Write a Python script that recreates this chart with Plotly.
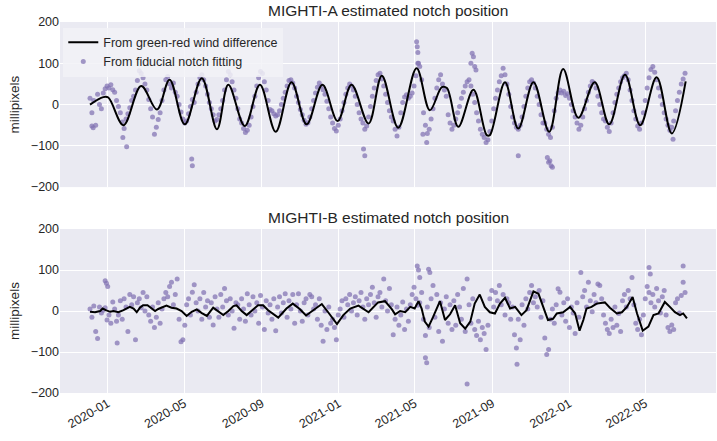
import pandas as pd
import plotly.graph_objects as go
from plotly.subplots import make_subplots

# ---------------- data (days counted from 2019-12-04) ----------------
START = "2019-12-04"
DOT_STEP_DAYS = 3

# MIGHTI-A : green-red wind difference estimate (extrema, smooth curve)
A_line_days = [0, 21, 29, 53, 81, 106, 126, 150, 177, 201, 219, 245, 269, 294, 319, 343,
               368, 392, 414, 441, 462, 488, 517, 538, 557, 565, 583, 607, 628, 633,
               657, 678, 702, 727, 749, 773, 799, 822, 847, 871, 897, 921, 943]
A_line_vals = [0, 18, 17, -50, 45, -12, 60, -48, 64, -60, 48, -52, 48, -66, 54, -48,
               48, -40, 48, -46, 70, -56, 88, -14, 42, 40, -54, 36, -74, -74,
               54, -58, 54, -66, 86, -32, 54, -48, 72, -50, 66, -70, 56]

# MIGHTI-A : fiducial notch fitting (one value every 3 days)
A_dots = [
    15, -20, 10, -50, 25, 0, -10, 28, 38, 45, 40, 48, 36, 30, 10, -5,
    -20, -42, -58, -35, -22, -8, 10, 20, 35, 58, 82, 75, 65, 50, 35, 12,
    -10, -30, -72, -55, -36, -20, 10, 35, 60, 68, 50, 40, 52, 30, 20, 0,
    -18, -35, -45, -40, -22, -5, 12, 5, 30, 50, 65, 72, 60, 45, 25, 5,
    -10, -25, -40, -36, -25, -10, 10, 35, 60, 80, 72, 55, 35, 15, -10, -35,
    -45, -58, -68, -62, -50, -30, -5, 20, 45, 65, 80, 75, 55, 35, 10, -12,
    -15, -22, -28, -25, -15, 0, 15, 30, 45, 58, 60, 52, 40, 20, 5, -12,
    -25, -38, -48, -44, -30, -10, 10, 28, 42, 52, 45, 36, 25, 8, -10, -30,
    -45, -58, -64, -50, -35, -15, 5, 25, 40, 50, 45, 35, 20, 0, -20, -35,
    -45, -60, -52, -30, -5, 20, 40, 58, 72, 76, 62, 45, 25, 5, -15, -30,
    -40, -60, -76, -55, -20, 5, 18, 24, 15, 20, 28, 45, 70, 100, 92, 60,
    -20, -50, -70, -60, -35, -10, 15, 40, 60, 72, 50, 35, 20, -25, -45, -60,
    -50, -35, -20, -5, 15, 30, 45, 55, 60, 45, 25, 5, -20, -40, -60, -72,
    -80, -92, -85, -65, -40, -10, 15, 35, 55, 70, 88, 72, 50, 25, -5, -30,
    -45, -55, -60, -50, -30, -5, 20, 40, 55, 60, 52, 40, 20, 0, -25, -45,
    -45, -60, -72, -80, -55, -15, 15, 28, 35, 28, 32, 22, 26, 15, 0, -15,
    -30, -45, -60, -50, -30, -10, 10, 30, 45, 56, 52, 40, 20, 0, -20, -35,
    -40, -55, -65, -45, -20, 5, 25, 40, 55, 65, 70, 76, 60, 35, 10, -15,
    -35, -52, -60, -45, -20, 10, 40, 65, 85, 92, 78, 60, 40, 20, 0, -20,
    -35, -50, -62, -55, -40, -15, 10, 30, 50, 62, 76,
]
A_out_days = [3, 5, 52, 58, 161, 162, 433, 435, 517, 518, 519, 520, 527, 533,
              603, 605, 607, 609, 611, 678, 724, 726, 728, 730, 732, 923]
A_out_vals = [-52, -56, -80, -102, -132, -148, -108, -124, 152, 140, 126, 100, -72, -92,
              100, 124, 116, 92, 84, -124, -128, -140, -136, -148, -152, -84]

# MIGHTI-B : green-red wind difference estimate
B_line_days = [0, 8, 16, 20, 25, 32, 37, 45, 53, 58, 63, 69, 74, 79, 84, 91, 96, 103, 108,
               116, 121, 129, 137, 145, 153, 161, 169, 177, 185, 195, 203, 211, 219, 227,
               232, 240, 248, 256, 266, 274, 282, 298, 311, 321, 332, 342, 352, 367, 377,
               391, 401, 412, 425, 441, 456, 467, 478, 483, 491, 499, 507, 514, 520, 525,
               530, 536, 543, 554, 562, 570, 578, 586, 594, 602, 609, 617, 625, 633, 641,
               649, 657, 665, 673, 683, 691, 702, 710, 718, 725, 733, 739, 749, 760, 768,
               775, 781, 786, 794, 802, 815, 823, 834, 842, 850, 859, 866, 875, 884, 892,
               900, 910, 918, 926, 934, 939, 945]
B_line_vals = [-2, -3, 0, 6, 2, -2, 0, -3, 2, 6, 10, 6, -3, 8, 14, 14, 8, 0, 5,
               10, 13, 8, 6, 0, -12, -2, 4, -5, -12, 8, -2, -10, 0, 12,
               14, 0, -10, 0, 14, 14, 2, -16, 6, 18, 5, -11, 0, 17, -3,
               -32, -10, 6, 13, -3, 21, 24, 4, -8, 0, -3, 10, 6, 24, 6,
               -26, -38, -15, 24, -22, -8, 14, -30, -43, -26, 18, 40, 10, -3, -6,
               18, 32, 6, 10, -10, 2, 48, 42, 6, -22, -19, -6, -3, 10, -6,
               -48, -22, 6, 10, 18, 21, 8, -6, -3, 10, 34, -6, -48, -38, -10,
               -6, 22, 10, -3, -10, -6, -18]

# MIGHTI-B : fiducial notch fitting (one value every 3 days)
B_dots = [
    5, -15, 12, -50, -67, 10, -5, 2, 8, -22, -10, -30, 22, 5, -25, -10,
    25, -20, 30, 10, -50, 40, 15, 35, -70, 20, 30, 8, 45, 0, 35, -10,
    -25, 10, -40, -15, 20, -30, 5, 30, 45, 35, 60, 70, 15, 40, 78, -20,
    -75, -70, -35, 15, 30, -10, 46, 64, 20, 0, 30, -20, 45, 10, 25, -15,
    20, -34, 35, 5, -15, 40, 10, 55, 25, -10, 30, 0, -42, 20, 15, -20,
    30, 5, -25, 42, 15, -10, 35, 0, 20, -30, 38, 10, -45, 25, -5, 15,
    -20, 30, -48, 10, 35, -5, 20, 42, -15, 25, 5, 40, -30, 15, 42, 0,
    -25, 20, 30, -10, 40, 35, 5, 15, -20, 30, -35, -74, 0, -45, 10, -30,
    -20, -40, -70, -10, 5, 25, -15, 30, 15, 40, 0, 20, 35, -10, 25, 45,
    10, -20, 30, 15, 40, 58, 20, -15, 35, 45, 10, 78, 25, 0, 55, 15,
    -58, -20, 10, -35, -10, 22, -45, 5, -25, 15, 40, 58, 30, 14, 20, 45,
    -20, -60, 10, -40, 30, 62, -15, 40, -50, 20, -74, 5, 35, -30, 15, -45,
    25, -35, 40, 10, -20, 55, -50, 78, 15, -30, 30, -45, -60, -25, -70, -40,
    -55, -94, -35, 30, 50, 10, 45, 25, 62, 15, 40, -10, 30, 20, -20, 10,
    -58, -90, -20, -70, 15, -35, 30, 5, 45, 62, 20, 35, 10, 50, -15, 25,
    -66, -106, -94, -20, 5, -30, 15, 54, 46, -10, 20, -25, 30, -40, 10, -5,
    -55, 20, -15, 94, 35, 50, 10, 70, 25, -2, 40, 20, 66, 62, 30, -10,
    -30, -45, -55, -20, -40, 10, -35, -6, -50, 25, 40, 10, 50, 30, 82, 15,
    -30, -45, -20, -58, -10, 30, 60, 45, 20, 40, 10, 55, 25, -5, 35, 50,
    -10, -40, -50, -34, -45, 20, 30, -5, 38, 70, 45,
]
B_out_days = [24, 26, 28, 43, 518, 520, 522, 531, 533, 536, 538, 597, 676, 885, 887, 939]
B_out_vals = [74, 68, 60, -78, 110, 100, 82, -114, -126, 102, 94, -178, -130, 106, 90, 110]

TITLES = ["MIGHTI-A estimated notch position", "MIGHTI-B estimated notch position"]
TICK_DATES = ["2020-01-01", "2020-05-01", "2020-09-01", "2021-01-01",
              "2021-05-01", "2021-09-01", "2022-01-01", "2022-05-01"]
TICK_TEXT = ["2020-01", "2020-05", "2020-09", "2021-01",
             "2021-05", "2021-09", "2022-01", "2022-05"]
Y_TICKS = [-200, -100, 0, 100, 200]

# ---------------- helpers ----------------
base = pd.Timestamp(START)


def to_dates(days):
    return [base + pd.Timedelta(days=int(d)) for d in days]


def grid_dates(n):
    return [base + pd.Timedelta(days=DOT_STEP_DAYS * k) for k in range(n)]


LINE_COLOR = "black"
DOT_COLOR = "rgba(129,114,178,0.72)"
BG = "#EAEAF2"
TXT = "#262626"
FONT = "Liberation Sans"

fig = make_subplots(rows=2, cols=1)

# top panel (dots first so the line is drawn above them)
fig.add_trace(go.Scatter(x=grid_dates(len(A_dots)) + to_dates(A_out_days),
                         y=A_dots + A_out_vals, mode="markers",
                         marker=dict(color=DOT_COLOR, size=5, line=dict(width=0)),
                         name="From fiducial notch fitting", legendrank=2), row=1, col=1)
fig.add_trace(go.Scatter(x=to_dates(A_line_days), y=A_line_vals, mode="lines",
                         line=dict(color=LINE_COLOR, width=2, shape="spline", smoothing=1.0),
                         name="From green-red wind difference", legendrank=1), row=1, col=1)

# bottom panel
fig.add_trace(go.Scatter(x=grid_dates(len(B_dots)) + to_dates(B_out_days),
                         y=B_dots + B_out_vals, mode="markers",
                         marker=dict(color=DOT_COLOR, size=5, line=dict(width=0)),
                         showlegend=False), row=2, col=1)
fig.add_trace(go.Scatter(x=to_dates(B_line_days), y=B_line_vals, mode="lines",
                         line=dict(color=LINE_COLOR, width=2),
                         showlegend=False), row=2, col=1)

xrange = ["2019-10-17 12:00", "2022-08-21"]
common_x = dict(range=xrange, tickvals=TICK_DATES, ticktext=TICK_TEXT,
                showgrid=True, gridcolor="white", gridwidth=1.3, zeroline=False,
                showline=False, ticks="", tickfont=dict(size=12.5, color=TXT, family=FONT))
common_y = dict(range=[-200, 200], tickvals=Y_TICKS, showgrid=True, gridcolor="white",
                gridwidth=1.3, zeroline=False, showline=False, ticks="",
                tickfont=dict(size=12.5, color=TXT, family=FONT),
                title=dict(text="millipixels", font=dict(size=13.5, color=TXT, family=FONT),
                           standoff=8))

fig.update_layout(
    width=717, height=441,
    margin=dict(l=60, r=1, t=22, b=48),
    paper_bgcolor="white", plot_bgcolor=BG,
    font=dict(family=FONT, color=TXT),
    xaxis=dict(domain=[0, 1], showticklabels=False, **common_x),
    xaxis2=dict(domain=[0, 1], tickangle=-30, **common_x),
    yaxis=dict(domain=[0.555, 1], **common_y),
    yaxis2=dict(domain=[0, 0.442], **common_y),
    legend=dict(x=0.005, y=0.985, xanchor="left", yanchor="top",
                bgcolor="rgba(242,242,247,0.85)", borderwidth=0,
                font=dict(size=12.5, color=TXT, family=FONT),
                tracegroupgap=0, itemwidth=30),
    showlegend=True,
    annotations=[
        dict(text=TITLES[0], x=0.5, y=1.0, xref="paper", yref="paper",
             xanchor="center", yanchor="bottom", yshift=1, showarrow=False,
             font=dict(size=15.5, color=TXT, family=FONT)),
        dict(text=TITLES[1], x=0.5, y=0.442, xref="paper", yref="paper",
             xanchor="center", yanchor="bottom", yshift=1, showarrow=False,
             font=dict(size=15.5, color=TXT, family=FONT)),
    ],
)

fig.write_html("out.html", config={"displayModeBar": False},
               post_script="document.body.style.margin='0';document.body.style.overflow='hidden';")
